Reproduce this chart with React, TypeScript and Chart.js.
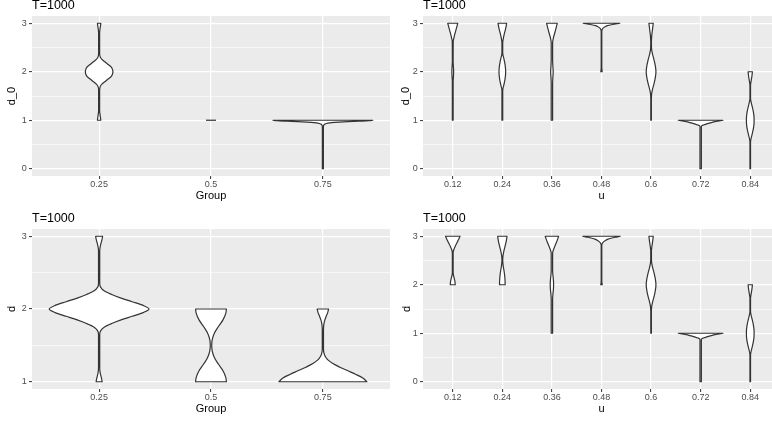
import React, { useEffect, useRef } from 'react';
import { Chart, registerables } from 'chart.js';

Chart.register(...registerables);

// ---------- data ----------
const panelTitle = 'T=1000';
const groupLevels = ['0.25', '0.5', '0.75'];
const uLevels = ['0.12', '0.24', '0.36', '0.48', '0.6', '0.72', '0.84'];
const yMajorD0 = [0, 1, 2, 3];
const yMinorD0 = [0.5, 1.5, 2.5];
const yMajorD = [1, 2, 3];
const yMinorD = [1.5, 2.5];

// violin profiles: y = value, w = half width (fraction of category spacing)
// d_0 by Group
const d0_g025 = {
  y: [1.0, 1.05, 1.1, 1.2, 1.6, 1.65, 1.7, 1.75, 1.8, 1.85, 1.9, 1.95, 2.0, 2.05, 2.1, 2.15, 2.2, 2.25, 2.3, 2.35, 2.4, 2.8, 2.9, 2.95, 3.0],
  w: [0.015, 0.0125, 0.009, 0.0045, 0.0045, 0.0054, 0.011, 0.027, 0.054, 0.08, 0.107, 0.119, 0.123, 0.119, 0.107, 0.08, 0.054, 0.027, 0.011, 0.0054, 0.0045, 0.0045, 0.009, 0.0125, 0.015],
};
const d0_g050 = { y: [1], w: [0.045] };
const d0_g075 = {
  y: [0, 0.04, 0.86, 0.88, 0.9, 0.92, 0.94, 0.95, 0.96, 0.97, 0.98, 0.99, 1.0],
  w: [0.0054, 0.0045, 0.0045, 0.0054, 0.008, 0.018, 0.045, 0.08, 0.143, 0.223, 0.321, 0.411, 0.446],
};
// d_0 by u
const d0_u012 = {
  y: [1.0, 1.8, 1.9, 2.0, 2.1, 2.2, 2.63, 2.7, 2.8, 2.9, 3.0],
  w: [0.008, 0.008, 0.014, 0.018, 0.014, 0.008, 0.01, 0.024, 0.048, 0.075, 0.101],
};
const d0_u024 = {
  y: [1.0, 1.6, 1.65, 1.7, 1.8, 1.9, 2.0, 2.1, 2.2, 2.3, 2.35, 2.4, 2.6, 2.7, 2.8, 2.9, 3.0],
  w: [0.008, 0.008, 0.012, 0.024, 0.046, 0.061, 0.067, 0.061, 0.046, 0.024, 0.012, 0.008, 0.008, 0.022, 0.044, 0.069, 0.087],
};
const d0_u036 = {
  y: [1.0, 1.75, 1.9, 2.0, 2.1, 2.25, 2.6, 2.7, 2.8, 2.9, 3.0],
  w: [0.014, 0.014, 0.02, 0.026, 0.02, 0.014, 0.014, 0.03, 0.057, 0.083, 0.107],
};
const d0_u048 = {
  y: [2.0, 2.03, 2.1, 2.84, 2.87, 2.9, 2.93, 2.95, 2.97, 2.98, 2.99, 3.0],
  w: [0.014, 0.01, 0.006, 0.006, 0.014, 0.032, 0.071, 0.121, 0.202, 0.252, 0.313, 0.369],
};
const d0_u060 = {
  y: [1.0, 1.45, 1.55, 1.65, 1.75, 1.85, 1.95, 2.0, 2.05, 2.15, 2.25, 2.35, 2.45, 2.55, 2.63, 2.75, 2.85, 2.95, 3.0],
  w: [0.006, 0.006, 0.012, 0.032, 0.058, 0.08, 0.095, 0.098, 0.095, 0.08, 0.058, 0.032, 0.012, 0.007, 0.007, 0.014, 0.026, 0.038, 0.044],
};
const d0_u072 = {
  y: [0, 0.87, 0.89, 0.9, 0.91, 0.93, 0.95, 0.97, 0.985, 1.0],
  w: [0.014, 0.014, 0.03, 0.05, 0.08, 0.141, 0.212, 0.293, 0.373, 0.45],
};
const d0_u084 = {
  y: [0, 0.55, 0.6, 0.7, 0.8, 0.9, 1.0, 1.1, 1.2, 1.3, 1.4, 1.45, 1.72, 1.8, 1.9, 2.0],
  w: [0.006, 0.006, 0.012, 0.035, 0.058, 0.073, 0.078, 0.073, 0.058, 0.035, 0.012, 0.006, 0.006, 0.016, 0.032, 0.044],
};
// d by Group
const d_g025 = {
  y: [1.0, 1.05, 1.1, 1.15, 1.2, 1.65, 1.7, 1.75, 1.8, 1.85, 1.9, 1.95, 2.0, 2.05, 2.1, 2.15, 2.2, 2.25, 2.3, 2.35, 2.8, 2.85, 2.9, 2.95, 3.0],
  w: [0.027, 0.021, 0.0125, 0.007, 0.0054, 0.0054, 0.013, 0.045, 0.112, 0.196, 0.295, 0.393, 0.446, 0.393, 0.295, 0.196, 0.112, 0.045, 0.013, 0.0054, 0.0054, 0.0089, 0.016, 0.025, 0.031],
};
const d_g050 = {
  y: [1.0, 1.06, 1.15, 1.24, 1.33, 1.42, 1.5, 1.58, 1.67, 1.76, 1.85, 1.94, 2.0],
  w: [0.138, 0.132, 0.107, 0.067, 0.031, 0.011, 0.00625, 0.011, 0.031, 0.067, 0.107, 0.132, 0.138],
};
const d_g075 = {
  y: [1.0, 1.05, 1.1, 1.15, 1.2, 1.25, 1.3, 1.35, 1.4, 1.45, 1.7, 1.75, 1.8, 1.85, 1.9, 1.95, 2.0],
  w: [0.393, 0.357, 0.295, 0.223, 0.152, 0.089, 0.045, 0.0205, 0.0089, 0.0054, 0.0054, 0.00625, 0.0098, 0.018, 0.03, 0.043, 0.051],
};
// d by u
const d_u012 = {
  y: [2.0, 2.05, 2.1, 2.15, 2.2, 2.25, 2.65, 2.7, 2.75, 2.8, 2.85, 2.9, 2.95, 3.0],
  w: [0.05, 0.046, 0.038, 0.026, 0.014, 0.008, 0.008, 0.014, 0.032, 0.052, 0.077, 0.101, 0.125, 0.147],
};
const d_u024 = {
  y: [2.0, 2.1, 2.2, 2.3, 2.4, 2.5, 2.6, 2.7, 2.8, 2.9, 3.0],
  w: [0.057, 0.054, 0.046, 0.032, 0.016, 0.008, 0.014, 0.032, 0.057, 0.079, 0.095],
};
const d_u036 = {
  y: [1.0, 1.7, 1.8, 1.9, 2.0, 2.1, 2.2, 2.3, 2.65, 2.7, 2.8, 2.9, 3.0],
  w: [0.014, 0.014, 0.02, 0.03, 0.034, 0.03, 0.02, 0.014, 0.014, 0.024, 0.061, 0.101, 0.135],
};
const d_u048 = {
  y: [2.0, 2.04, 2.1, 2.82, 2.85, 2.88, 2.91, 2.94, 2.96, 2.98, 3.0],
  w: [0.016, 0.008, 0.006, 0.006, 0.016, 0.036, 0.071, 0.131, 0.192, 0.272, 0.377],
};
const d_u060 = {
  y: [1.0, 1.45, 1.55, 1.65, 1.75, 1.85, 1.95, 2.0, 2.05, 2.15, 2.25, 2.35, 2.45, 2.55, 2.7, 2.8, 2.9, 3.0],
  w: [0.006, 0.006, 0.012, 0.032, 0.058, 0.08, 0.095, 0.098, 0.095, 0.08, 0.058, 0.032, 0.012, 0.007, 0.007, 0.018, 0.032, 0.044],
};
const d_u072 = {
  y: [0, 0.87, 0.89, 0.9, 0.91, 0.93, 0.95, 0.97, 0.985, 1.0],
  w: [0.014, 0.014, 0.03, 0.05, 0.08, 0.141, 0.212, 0.293, 0.373, 0.45],
};
const d_u084 = {
  y: [0, 0.55, 0.6, 0.7, 0.8, 0.9, 1.0, 1.1, 1.2, 1.3, 1.4, 1.45, 1.72, 1.8, 1.9, 2.0],
  w: [0.006, 0.006, 0.012, 0.035, 0.058, 0.073, 0.078, 0.073, 0.058, 0.035, 0.012, 0.006, 0.006, 0.016, 0.032, 0.044],
};

// ---------- rendering ----------
type Violin = { y: number[]; w: number[] };

const FONT = "'Liberation Sans', Arial, Helvetica, sans-serif";

function monotoneSegments(t: number[], v: number[]) {
  const n = t.length;
  const d: number[] = [];
  for (let k = 0; k < n - 1; k++) d.push((v[k + 1] - v[k]) / (t[k + 1] - t[k]));
  const m: number[] = new Array(n).fill(0);
  if (n > 1) {
    m[0] = d[0];
    m[n - 1] = d[n - 2];
  }
  for (let k = 1; k < n - 1; k++) m[k] = d[k - 1] * d[k] <= 0 ? 0 : (d[k - 1] + d[k]) / 2;
  for (let k = 0; k < n - 1; k++) {
    if (d[k] === 0) {
      m[k] = 0;
      m[k + 1] = 0;
      continue;
    }
    const a = m[k] / d[k];
    const b = m[k + 1] / d[k];
    const s = a * a + b * b;
    if (s > 9) {
      const tau = 3 / Math.sqrt(s);
      m[k] = tau * a * d[k];
      m[k + 1] = tau * b * d[k];
    }
  }
  const segs: { c1x: number; c1y: number; c2x: number; c2y: number }[] = [];
  for (let k = 0; k < n - 1; k++) {
    const h = t[k + 1] - t[k];
    segs.push({
      c1x: v[k] + (m[k] * h) / 3,
      c1y: t[k] + h / 3,
      c2x: v[k + 1] - (m[k + 1] * h) / 3,
      c2y: t[k + 1] - h / 3,
    });
  }
  return segs;
}

function violinPlugin(violins: Violin[], title: string) {
  return {
    id: 'violinPanel',
    beforeDraw(chart: any) {
      const { ctx, chartArea: a } = chart;
      ctx.save();
      ctx.fillStyle = '#EBEBEB';
      ctx.fillRect(a.left, a.top, a.right - a.left, a.bottom - a.top);
      ctx.restore();
    },
    afterDatasetsDraw(chart: any) {
      const { ctx, chartArea: a } = chart;
      const xs = chart.scales.x;
      const ys = chart.scales.y;
      ctx.save();
      ctx.beginPath();
      ctx.rect(a.left, a.top, a.right - a.left, a.bottom - a.top);
      ctx.clip();
      ctx.fillStyle = '#FFFFFF';
      ctx.strokeStyle = '#333333';
      ctx.lineWidth = 1.2;
      ctx.lineJoin = 'round';
      violins.forEach((vd, i) => {
        const n = vd.y.length;
        const t = vd.y.map((yy) => ys.getPixelForValue(yy));
        const vr = vd.w.map((w) => xs.getPixelForValue(i + w));
        const vl = vd.w.map((w) => xs.getPixelForValue(i - w));
        ctx.beginPath();
        if (n === 1) {
          ctx.moveTo(vl[0], t[0]);
          ctx.lineTo(vr[0], t[0]);
          ctx.stroke();
          return;
        }
        const sr = monotoneSegments(t, vr);
        const sl = monotoneSegments(t, vl);
        ctx.moveTo(vr[0], t[0]);
        for (let k = 0; k < n - 1; k++) {
          const s = sr[k];
          ctx.bezierCurveTo(s.c1x, s.c1y, s.c2x, s.c2y, vr[k + 1], t[k + 1]);
        }
        ctx.lineTo(vl[n - 1], t[n - 1]);
        for (let k = n - 2; k >= 0; k--) {
          const s = sl[k];
          ctx.bezierCurveTo(s.c2x, s.c2y, s.c1x, s.c1y, vl[k], t[k]);
        }
        ctx.closePath();
        ctx.fill();
        ctx.stroke();
      });
      ctx.restore();
    },
    afterDraw(chart: any) {
      const { ctx, chartArea: a } = chart;
      ctx.save();
      ctx.font = `12.5px ${FONT}`;
      ctx.fillStyle = '#000000';
      ctx.textAlign = 'left';
      ctx.textBaseline = 'middle';
      ctx.fillText(title, a.left, 5.4);
      ctx.restore();
    },
  };
}

type PanelSpec = {
  left: number;
  top: number;
  width: number;
  height: number;
  levels: string[];
  violins: Violin[];
  yMajor: number[];
  yMinor: number[];
  yMin: number;
  yMax: number;
  xTitle: string;
  yTitle: string;
  yTitlePad: number;
};

function buildConfig(p: PanelSpec): any {
  const yAll = [...p.yMajor, ...p.yMinor].sort((a, b) => a - b);
  const isMajor = (v: any) => p.yMajor.indexOf(v) >= 0;
  return {
    type: 'scatter',
    data: { datasets: [] },
    plugins: [violinPlugin(p.violins, panelTitle)],
    options: {
      responsive: false,
      animation: false,
      events: [],
      layout: { padding: { top: 16, left: 0, right: 0, bottom: 0 } },
      plugins: { legend: { display: false }, tooltip: { enabled: false }, title: { display: false } },
      scales: {
        x: {
          type: 'linear',
          min: -0.6,
          max: p.levels.length - 1 + 0.6,
          afterBuildTicks: (s: any) => {
            s.ticks = p.levels.map((_, i) => ({ value: i }));
          },
          afterFit: (s: any) => {
            s.height = 35;
            s.paddingLeft = 0;
            s.paddingRight = 0;
          },
          ticks: {
            callback: (v: any) => p.levels[Math.round(v)] ?? '',
            autoSkip: false,
            maxRotation: 0,
            minRotation: 0,
            padding: 0,
            color: '#4D4D4D',
            font: { family: FONT, size: 9 },
          },
          grid: { color: '#FFFFFF', lineWidth: 1.2, tickColor: '#333333', tickLength: 3, tickWidth: 1 },
          border: { display: false },
          title: {
            display: true,
            text: p.xTitle,
            color: '#000000',
            font: { family: FONT, size: 11 },
            padding: { top: 0, bottom: 8.7 },
          },
        },
        y: {
          type: 'linear',
          min: p.yMin,
          max: p.yMax,
          afterBuildTicks: (s: any) => {
            s.ticks = yAll.map((v) => ({ value: v }));
          },
          afterFit: (s: any) => {
            s.width = 32;
            s.paddingTop = 0;
            s.paddingBottom = 0;
          },
          ticks: {
            callback: (v: any) => (isMajor(v) ? String(v) : ''),
            autoSkip: false,
            padding: 2.3,
            color: '#4D4D4D',
            font: { family: FONT, size: 9 },
          },
          grid: {
            color: '#FFFFFF',
            lineWidth: (c: any) => (c.tick && isMajor(c.tick.value) ? 1.2 : 0.6),
            tickColor: (c: any) => (c.tick && isMajor(c.tick.value) ? '#333333' : 'rgba(0,0,0,0)'),
            tickLength: 3,
            tickWidth: 1,
          },
          border: { display: false },
          title: {
            display: true,
            text: p.yTitle,
            color: '#000000',
            font: { family: FONT, size: 11 },
            padding: { top: p.yTitlePad, bottom: 0 },
          },
        },
      },
    },
  };
}

const panels: PanelSpec[] = [
  {
    left: 0, top: 0, width: 390, height: 211,
    levels: groupLevels, violins: [d0_g025, d0_g050, d0_g075],
    yMajor: yMajorD0, yMinor: yMinorD0, yMin: -0.15, yMax: 3.15,
    xTitle: 'Group', yTitle: 'd_0', yTitlePad: 5.8,
  },
  {
    left: 391, top: 0, width: 389, height: 211,
    levels: uLevels, violins: [d0_u012, d0_u024, d0_u036, d0_u048, d0_u060, d0_u072, d0_u084],
    yMajor: yMajorD0, yMinor: yMinorD0, yMin: -0.15, yMax: 3.15,
    xTitle: 'u', yTitle: 'd_0', yTitlePad: 8.2,
  },
  {
    left: 0, top: 213, width: 390, height: 211,
    levels: groupLevels, violins: [d_g025, d_g050, d_g075],
    yMajor: yMajorD, yMinor: yMinorD, yMin: 0.9, yMax: 3.1,
    xTitle: 'Group', yTitle: 'd', yTitlePad: 5.8,
  },
  {
    left: 391, top: 213, width: 389, height: 211,
    levels: uLevels, violins: [d_u012, d_u024, d_u036, d_u048, d_u060, d_u072, d_u084],
    yMajor: yMajorD0, yMinor: yMinorD0, yMin: -0.15, yMax: 3.15,
    xTitle: 'u', yTitle: 'd', yTitlePad: 9.3,
  },
];

function Panel({ spec }: { spec: PanelSpec }) {
  const ref = useRef<HTMLCanvasElement | null>(null);
  useEffect(() => {
    if (!ref.current) return;
    const chart = new Chart(ref.current, buildConfig(spec));
    return () => chart.destroy();
  }, [spec]);
  return (
    <canvas
      ref={ref}
      width={spec.width}
      height={spec.height}
      style={{ position: 'absolute', left: spec.left, top: spec.top, width: spec.width, height: spec.height, display: 'block' }}
    />
  );
}

export default function App() {
  return (
    <div
      style={{
        position: 'fixed',
        left: 0,
        top: 0,
        width: 772,
        height: 423,
        overflow: 'hidden',
        background: '#FFFFFF',
      }}
    >
      {panels.map((p, i) => (
        <Panel key={i} spec={p} />
      ))}
    </div>
  );
}
